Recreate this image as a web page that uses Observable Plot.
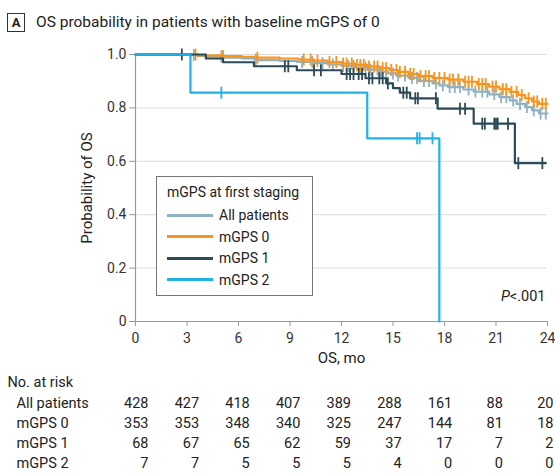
<!DOCTYPE html>
<html><head><meta charset="utf-8">
<script src="https://cdn.jsdelivr.net/npm/d3@7"></script>
<script src="https://cdn.jsdelivr.net/npm/@observablehq/plot@0.6"></script>
<style>
body{margin:0;background:#fff;font-family:Roboto,"Open Sans",sans-serif;color:#222}
#wrap{position:relative;width:555px;height:474px;overflow:hidden;background:#fff}
#title{position:absolute;left:7px;top:12px;height:20px;display:flex;align-items:center;font-size:15.5px;color:#222}
#title .panel{display:inline-block;width:18px;height:19px;border:1px solid #333;box-sizing:border-box;font-weight:bold;font-size:13px;text-align:center;line-height:17px;margin-right:11px}
#main{position:absolute;left:0;top:40px}
#table{position:absolute;left:0;top:366px}
#legend{position:absolute;left:156px;top:176px;width:157px;height:120px;border:1px solid #777;box-sizing:border-box;background:#fff;font-size:14px;color:#222}
#legend .lt{position:absolute;left:10px;top:7px;white-space:nowrap}
#legend .it{position:absolute;left:10px;height:20px;display:flex;align-items:center;white-space:nowrap}
#legend .sw{display:inline-block;width:46px;height:3px;margin-right:6px}
g[aria-label="x-axis tick"], g[aria-label="y-axis tick"]{stroke:#999}
</style></head><body>
<div id="wrap">
  <div id="title"><span class="panel">A</span><span>OS probability in patients with baseline mGPS of 0</span></div>
  <div id="main"></div>
  <div id="legend"></div>
  <div id="table"></div>
</div>
<script>
const seriesNames = ["All patients", "mGPS 0", "mGPS 1", "mGPS 2"];
const seriesColors = ["#8fb1c4", "#f7951d", "#2d4b56", "#1fb2e5"];
const legendTitle = "mGPS at first staging";
const xTicks = [0, 3, 6, 9, 12, 15, 18, 21, 24];
const yTicks = [0, 0.2, 0.4, 0.6, 0.8, 1.0];
const gridY = [0.2, 0.4, 0.6, 0.8, 1.0];

// Kaplan-Meier steps (time in months, survival probability)
const allStepT = [0, 3.2, 3.6, 4.1, 5.1, 6.2, 6.9, 7.1, 8.4, 9.4, 10.4, 11.2, 12.0, 12.8, 13.5, 14.2, 14.7, 15.2, 15.9, 16.5, 17.3, 17.7, 18.2, 19.1, 19.7, 20.6, 21.2, 21.8, 22.2, 22.7, 23.1, 23.5, 24];
const allStepS = [1, 0.998, 0.995, 0.993, 0.988, 0.985, 0.981, 0.979, 0.976, 0.972, 0.968, 0.963, 0.957, 0.951, 0.943, 0.936, 0.929, 0.921, 0.912, 0.901, 0.892, 0.884, 0.878, 0.869, 0.861, 0.851, 0.840, 0.828, 0.815, 0.803, 0.791, 0.779, 0.779];
const gps0StepT = [0, 3.6, 5.1, 6.2, 7.1, 8.4, 9.5, 10.4, 11.2, 12.0, 12.8, 13.5, 14.2, 14.8, 15.3, 15.9, 16.5, 17.3, 18.2, 19.1, 19.9, 20.6, 21.2, 21.8, 22.3, 22.7, 23.1, 23.5, 24];
const gps0StepS = [1, 0.997, 0.994, 0.991, 0.988, 0.985, 0.981, 0.977, 0.972, 0.966, 0.961, 0.955, 0.949, 0.942, 0.935, 0.927, 0.919, 0.912, 0.906, 0.898, 0.889, 0.880, 0.870, 0.860, 0.848, 0.836, 0.824, 0.815, 0.815];
const gps1StepT = [0, 4.1, 5.1, 6.9, 9.4, 12.0, 13.4, 14.6, 15.0, 15.4, 16.0, 17.6, 19.7, 22.1, 23.9];
const gps1StepS = [1, 0.985, 0.971, 0.956, 0.941, 0.927, 0.911, 0.892, 0.874, 0.857, 0.836, 0.797, 0.741, 0.593, 0.593];
const gps2StepT = [0, 3.2, 13.5, 17.7];
const gps2StepS = [1, 0.857, 0.686, 0];

// Censoring times (months)
const allCensor = [3.4, 5.0, 7.0, 9.7, 10.3, 10.9, 11.5, 12.1, 12.4, 12.7, 13.1, 13.4, 13.7, 14.1, 14.3, 14.6, 15.0, 15.3, 15.7, 16.1, 16.4, 16.8, 17.1, 17.5, 17.9, 18.3, 18.6, 18.9, 19.4, 19.8, 20.2, 20.5, 20.9, 21.3, 21.6, 22.0, 22.4, 22.8, 23.2, 23.6, 23.9];
const gps0Censor = [3.5, 5.1, 7.1, 9.8, 10.2, 10.6, 11.3, 11.7, 12.1, 12.3, 12.6, 12.9, 13.1, 13.3, 13.6, 13.9, 14.1, 14.4, 14.6, 14.9, 15.2, 15.4, 15.7, 16.0, 16.2, 16.6, 16.9, 17.1, 17.4, 17.7, 18.0, 18.3, 18.5, 18.8, 19.2, 19.4, 19.6, 20.0, 20.2, 20.4, 20.8, 21.0, 21.4, 21.6, 21.9, 22.2, 22.5, 22.9, 23.2, 23.4, 23.7, 23.9];
const gps1Censor = [2.7, 8.7, 8.9, 10.4, 10.8, 12.3, 12.5, 12.7, 13.0, 13.2, 13.6, 13.8, 14.2, 14.4, 14.7, 15.6, 15.8, 16.3, 16.45, 17.5, 18.9, 19.2, 20.2, 20.35, 20.9, 21.0, 21.1, 21.7, 22.3, 23.7];
const gps2Censor = [5.0, 16.4, 16.55, 17.3];

// Number at risk
const riskTimes = [0, 3, 6, 9, 12, 15, 18, 21, 24];
const riskAll = [428, 427, 418, 407, 389, 288, 161, 88, 20];
const riskGps0 = [353, 353, 348, 340, 325, 247, 144, 81, 18];
const riskGps1 = [68, 67, 65, 62, 59, 37, 17, 7, 2];
const riskGps2 = [7, 7, 5, 5, 5, 4, 0, 0, 0];

const font = 'Roboto, "Open Sans", sans-serif';

function steps(T, S) { return T.map((t, i) => ({t, s: S[i]})); }
function survAt(T, S, t) { let v = S[0]; for (let i = 0; i < T.length; i++) if (T[i] <= t) v = S[i]; return v; }
function censors(C, T, S) { return C.map(t => ({t, s: survAt(T, S, t)})); }

const tickSymbol = {draw(ctx, size) { const h = Math.sqrt(size / Math.PI); ctx.moveTo(0, -h); ctx.lineTo(0, h); }};

const series = [
  {steps: steps(allStepT, allStepS), cens: censors(allCensor, allStepT, allStepS), color: seriesColors[0]},
  {steps: steps(gps0StepT, gps0StepS), cens: censors(gps0Censor, gps0StepT, gps0StepS), color: seriesColors[1]},
  {steps: steps(gps1StepT, gps1StepS), cens: censors(gps1Censor, gps1StepT, gps1StepS), color: seriesColors[2]},
  {steps: steps(gps2StepT, gps2StepS), cens: censors(gps2Censor, gps2StepT, gps2StepS), color: seriesColors[3]}
];

const marks = [
  Plot.ruleY(gridY, {stroke: "#dcdcdc", strokeWidth: 1}),
  Plot.ruleX([0], {stroke: "#999", strokeWidth: 1.2}),
  Plot.ruleY([0], {stroke: "#999", strokeWidth: 1.2}),
  Plot.axisX(xTicks, {tickSize: 5, tickPadding: 7, fontSize: 14, color: "#333", label: null}),
  Plot.axisY(yTicks, {tickSize: 6, tickPadding: 3, fontSize: 14, color: "#333", label: null, tickFormat: d => d === 0 ? "0" : d.toFixed(1)})
];
for (const s of series) {
  marks.push(Plot.line(s.steps, {x: "t", y: "s", curve: "step-after", stroke: s.color, strokeWidth: 2.2}));
  marks.push(Plot.dot(s.cens, {x: "t", y: "s", symbol: tickSymbol, r: 6, stroke: s.color, strokeWidth: 1.8, fill: "none"}));
}
marks.push(Plot.text(["OS, mo"], {frameAnchor: "bottom", dy: 37, lineAnchor: "middle", fontSize: 15, fill: "#222"}));
marks.push(Plot.text(["Probability of OS"], {frameAnchor: "left", dx: -48, rotate: -90, textAnchor: "middle", lineAnchor: "middle", fontSize: 15, fill: "#222"}));
marks.push(Plot.text(["P<.001"], {frameAnchor: "bottom-right", dx: -2, dy: -25, textAnchor: "end", lineAnchor: "middle", fontSize: 14.5, fill: "#222"}));

const chart = Plot.plot({
  width: 555, height: 326,
  marginTop: 14, marginLeft: 135, marginRight: 8, marginBottom: 45,
  style: {fontFamily: font, fontSize: "14px", background: "#fff", color: "#222"},
  x: {domain: [0, 24]},
  y: {domain: [0, 1]},
  marks
});
// italic P
d3.select(chart).selectAll("text").filter(function() { return this.textContent === "P<.001"; }).each(function() {
  const t = d3.select(this); t.text(null);
  t.append("tspan").attr("font-style", "italic").text("P");
  t.append("tspan").text("<.001");
});
document.getElementById("main").appendChild(chart);

// legend
const leg = document.getElementById("legend");
const lt = document.createElement("div"); lt.className = "lt"; lt.textContent = legendTitle; leg.appendChild(lt);
seriesNames.forEach((n, i) => {
  const it = document.createElement("div"); it.className = "it"; it.style.top = (28 + i * 21.5) + "px";
  const sw = document.createElement("span"); sw.className = "sw"; sw.style.background = seriesColors[i];
  const lab = document.createElement("span"); lab.textContent = n;
  it.appendChild(sw); it.appendChild(lab); leg.appendChild(it);
});

// risk table
const riskRows = [riskAll, riskGps0, riskGps1, riskGps2];
const cells = [];
riskRows.forEach((row, r) => row.forEach((v, i) => cells.push({row: seriesNames[r], t: riskTimes[i], v})));
const table = Plot.plot({
  width: 555, height: 108,
  marginTop: 0, marginBottom: 0, marginLeft: 16, marginRight: 0,
  style: {fontFamily: font, fontSize: "14.5px", background: "#fff", color: "#222"},
  x: {domain: [0, 24], range: [148, 553], axis: null},
  y: {domain: seriesNames, type: "point", range: [37, 97], padding: 0, axis: null},
  marks: [
    Plot.text(["No. at risk"], {frameAnchor: "top-left", dx: -9, dy: 16, lineAnchor: "middle", textAnchor: "start", fontSize: 14.5, fill: "#222"}),
    Plot.text(seriesNames, {y: d => d, frameAnchor: "left", textAnchor: "start", fontSize: 14.5, fill: "#222"}),
    Plot.text(cells, {x: "t", y: "row", text: d => String(d.v), textAnchor: "end", fontSize: 14.5, fill: "#222"})
  ]
});
document.getElementById("table").appendChild(table);
</script>
</body></html>
